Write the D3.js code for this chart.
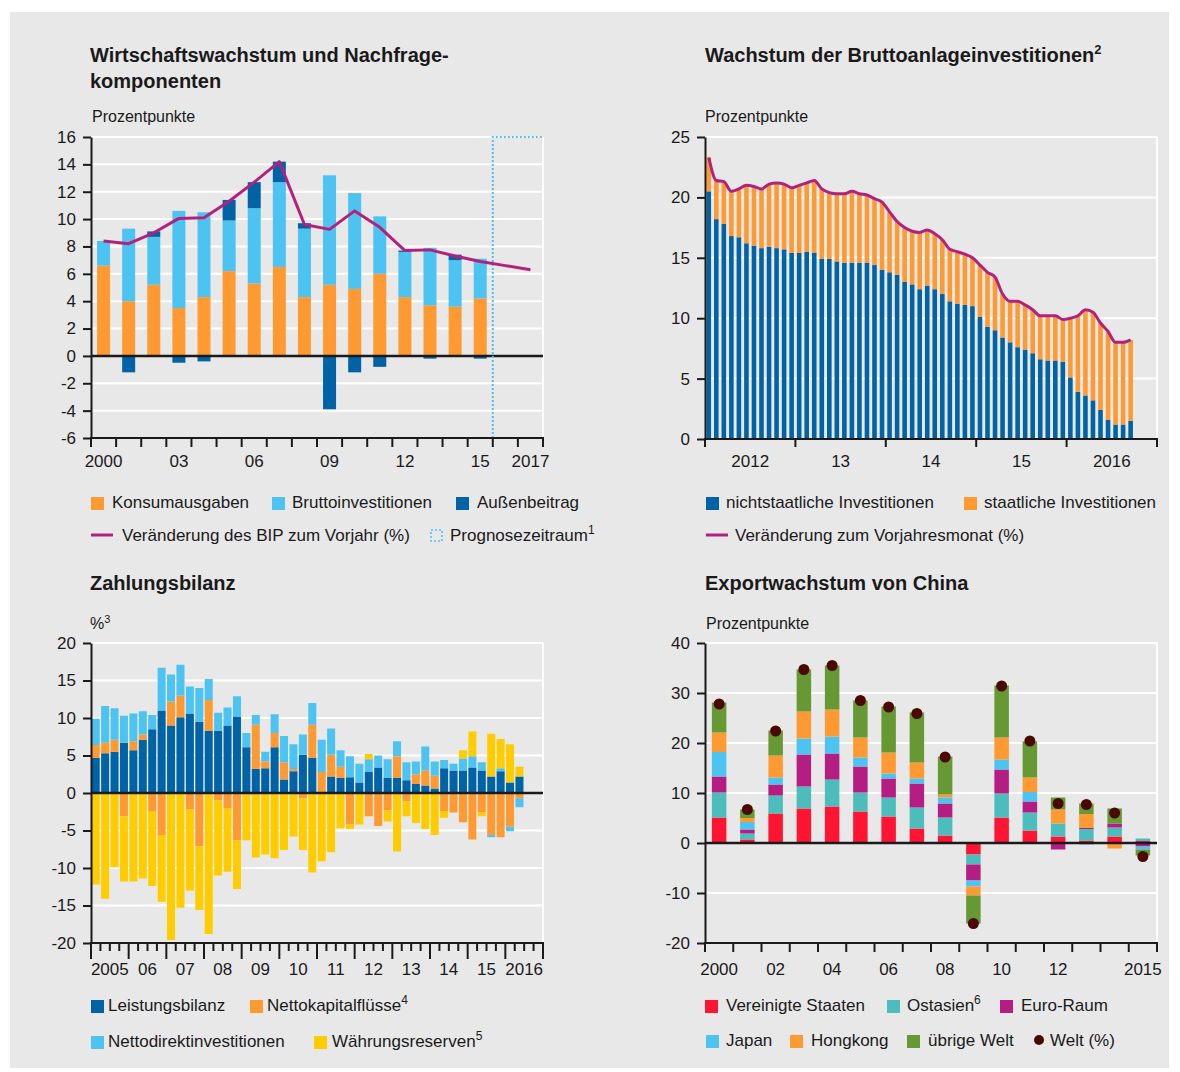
<!DOCTYPE html>
<html>
<head>
<meta charset="utf-8">
<script src="https://cdnjs.cloudflare.com/ajax/libs/d3/7.8.5/d3.min.js"></script>
<style>
body { margin: 0; background: #fff; }
svg text { font-family: "Liberation Sans", Arial, sans-serif; fill: #1a1a1a; }
</style>
</head>
<body>
<svg id="chart" width="1180" height="1072"></svg>
<script>
// ---------- data ----------
// Panel 1: Wirtschaftswachstum und Nachfragekomponenten (2000-2015 bars, 2000-2017 line)
const growthYears = d3.range(2000, 2018);
const compYears = d3.range(2000, 2016);
const konsum = [6.6, 4.0, 5.2, 3.5, 4.3, 6.2, 5.3, 6.5, 4.3, 5.2, 4.9, 6.0, 4.3, 3.7, 3.6, 4.2];
const brutto = [1.8, 5.3, 3.5, 7.1, 6.2, 3.7, 5.5, 6.2, 5.0, 8.0, 7.0, 4.2, 3.3, 4.2, 3.4, 2.9];
const aussen = [0.0, -1.2, 0.4, -0.5, -0.4, 1.5, 1.9, 1.5, 0.4, -3.9, -1.2, -0.8, 0.1, -0.2, 0.4, -0.2];
const bip = [8.4, 8.2, 9.0, 10.05, 10.1, 11.3, 12.7, 14.2, 9.6, 9.25, 10.6, 9.4, 7.7, 7.75, 7.3, 6.9, 6.6, 6.3];
const growthTickYears = [2000, 2003, 2006, 2009, 2012, 2015, 2017];
const growthYTicks = [-6, -4, -2, 0, 2, 4, 6, 8, 10, 12, 14, 16];

// Panel 2: Wachstum der Bruttoanlageinvestitionen (monthly, Jan 2012 - Sep 2016)
const investYears = [2012, 2013, 2014, 2015, 2016];
const investYearLabels = ['2012', '13', '14', '15', '2016'];
const privat = [20.5, 18.2, 17.8, 16.8, 16.7, 16.2, 16.0, 15.8, 15.9, 15.8, 15.7, 15.4, 15.4, 15.5, 15.4, 14.9, 14.9, 14.7, 14.6, 14.6,
  14.6, 14.6, 14.4, 14.0, 13.8, 13.6, 13.0, 12.8, 12.4, 12.7, 12.4, 12.0, 11.4, 11.2, 11.1, 11.0, 10.1, 9.3, 9.0, 8.4,
  8.0, 7.6, 7.4, 7.1, 6.6, 6.5, 6.5, 6.4, 5.1, 3.9, 3.6, 3.2, 2.4, 1.6, 1.2, 1.2, 1.5];
const staatlich = [2.8, 3.2, 3.5, 3.7, 4.0, 4.8, 4.9, 4.9, 5.2, 5.4, 5.4, 5.4, 5.6, 5.7, 6.0, 5.8, 5.5, 5.6, 5.7, 5.9,
  5.7, 5.6, 5.5, 5.6, 5.0, 4.4, 4.5, 4.4, 4.7, 4.6, 4.6, 4.5, 4.3, 4.3, 4.2, 4.0, 4.3, 4.5, 4.4, 3.6,
  3.4, 3.8, 3.7, 3.6, 3.6, 3.7, 3.7, 3.5, 4.9, 6.3, 7.1, 7.3, 7.2, 7.3, 6.8, 6.8, 6.7];
const investTotal = [23.3, 21.4, 21.3, 20.5, 20.7, 21.0, 20.9, 20.7, 21.1, 21.2, 21.1, 20.8, 21.0, 21.2, 21.4, 20.7, 20.4, 20.3, 20.3, 20.5,
  20.3, 20.2, 19.9, 19.6, 18.8, 18.0, 17.5, 17.2, 17.1, 17.3, 17.0, 16.5, 15.7, 15.5, 15.3, 15.0, 14.4, 13.8, 13.4, 12.0,
  11.4, 11.4, 11.1, 10.7, 10.2, 10.2, 10.2, 9.9, 10.0, 10.2, 10.7, 10.5, 9.6, 8.9, 8.0, 8.0, 8.2];
const investYTicks = [0, 5, 10, 15, 20, 25];

// Panel 3: Zahlungsbilanz (quarterly, 2005 Q1 - 2016 Q2)
const bopYears = d3.range(2005, 2017);
const bopYearLabels = ['2005', '06', '07', '08', '09', '10', '11', '12', '13', '14', '15', '2016'];
const leistung = [4.7, 5.3, 5.5, 6.7, 5.7, 7.1, 8.5, 11.0, 9.0, 10.1, 10.6, 9.5, 8.3, 8.3, 9.0, 10.2, 6.1, 3.2, 3.3, 6.1, 1.8, 2.9, 5.1,
  4.7, 0.0, 2.2, 2.0, 2.1, 1.4, 2.8, 3.4, 2.0, 2.0, 1.7, 1.2, 1.0, 0.6, 3.3, 3.0, 3.0, 3.4, 3.0, 2.2, 2.9, 1.4, 2.2];
const kapital = [1.7, 1.4, 1.6, -3.1, 1.2, 0.7, -2.4, -5.6, 3.2, 2.9, -2.2, -7.1, 4.1, -1.0, -2.0, -6.3, -0.2, 5.9, 0.9, 1.9, 2.3, 0.3, -0.7,
  4.4, 2.8, 2.9, 1.5, -4.2, 0.0, -3.1, -4.4, -2.3, 2.9, -1.1, 1.3, 2.0, 1.7, -2.4, -2.6, -3.9, -6.2, -2.6, -5.6, -5.9, -4.5, -0.7];
const direkt = [3.5, 4.9, 4.2, 3.6, 3.7, 3.1, 1.9, 5.7, 3.6, 4.1, 3.6, 4.5, 2.8, 2.4, 2.4, 2.7, 1.9, 1.3, 1.3, 2.5, 3.5, 3.3, 2.7,
  2.9, 4.3, 3.5, 2.2, 2.8, 2.5, 1.7, 1.6, 2.5, 2.0, 2.4, 1.7, 3.2, 1.9, 1.1, 0.9, 1.6, 1.5, 1.1, -0.3, 0.4, -0.6, -1.2];
const reserven = [-12.2, -14.1, -9.9, -8.7, -11.8, -11.4, -10.0, -8.9, -19.6, -15.3, -10.8, -8.5, -18.8, -10.0, -8.5, -6.5, -6.1, -8.6, -8.2, -8.7, -7.6, -5.8, -6.9,
  -10.6, -9.1, -7.9, -4.7, -0.6, -4.2, 0.7, 0.0, -1.5, -7.8, -2.0, -4.0, -4.8, -5.6, -0.9, 0.0, 1.1, 3.3, -0.5, 5.7, 3.9, 5.1, 1.3];
const bopYTicks = [-20, -15, -10, -5, 0, 5, 10, 15, 20];

// Panel 4: Exportwachstum von China (2000-2015)
const exportYears = d3.range(2000, 2016);
const exportTickYears = [2000, 2002, 2004, 2006, 2008, 2010, 2012, 2015];
const usa = [5.1, 0.7, 5.9, 6.9, 7.3, 6.3, 5.3, 2.9, 1.5, -2.3, 5.1, 2.5, 1.3, 0.5, 1.3, 0.4];
const ostasien = [5.0, 1.2, 3.6, 4.4, 5.4, 3.8, 3.8, 4.2, 3.6, -2.0, 4.8, 3.6, 2.6, 2.3, 1.8, 0.5];
const euroRaum = [3.2, 0.8, 2.2, 6.4, 5.2, 5.2, 3.8, 4.8, 2.8, -3.2, 4.8, 2.2, -1.3, 0.2, 0.8, -0.7];
const japan = [4.9, 1.5, 1.4, 3.2, 3.4, 1.8, 1.0, 1.0, 1.2, -1.2, 2.0, 1.9, 0.0, -0.3, -0.2, -0.6];
const hongkong = [3.9, 0.8, 4.4, 5.4, 5.4, 4.0, 4.2, 3.2, 0.6, -1.8, 4.4, 2.9, 2.8, 2.8, -0.9, 0.0];
const uebrige = [6.0, 1.7, 5.0, 8.4, 8.8, 7.4, 9.2, 10.0, 7.6, -5.6, 10.4, 7.2, 2.4, 2.1, 3.0, -1.2];
const welt = [27.8, 6.7, 22.4, 34.7, 35.5, 28.5, 27.2, 25.9, 17.2, -16.1, 31.4, 20.4, 7.9, 7.7, 6.0, -2.7];
const exportYTicks = [-20, -10, 0, 10, 20, 30, 40];

// ---------- colours ----------
const col = {
  orange: '#ff9a33', light: '#4cc3f1', dark: '#0063a5', line: '#b3217f', yellow: '#ffcc00',
  red: '#ff1432', teal: '#4cbcbc', euro: '#b41e82', green: '#669933', dot: '#4a0800', ink: '#1a1a1a'
};

const svg = d3.select('#chart');
svg.append('rect').attr('x', 10).attr('y', 12).attr('width', 1159).attr('height', 1056).attr('fill', '#e8e8e8');

// ---------- helpers ----------
function grid(g, y, ticks, x0, x1) {
  g.selectAll(null).data(ticks.slice(1)).enter().append('line')
    .attr('x1', x0).attr('x2', x1)
    .attr('y1', d => y(d)).attr('y2', d => y(d))
    .attr('stroke', '#fff').attr('stroke-width', 2);
  g.append('line').attr('x1', x1).attr('x2', x1)
    .attr('y1', y(ticks[ticks.length - 1])).attr('y2', y(ticks[0]))
    .attr('stroke', '#fff').attr('stroke-width', 2);
}

function yAxis(g, y, ticks, x0) {
  const ax = g.append('g').attr('transform', `translate(${x0},0)`)
    .call(d3.axisLeft(y).tickValues(ticks).tickSize(8).tickSizeOuter(0).tickPadding(7).tickFormat(d => String(d)));
  ax.attr('font-size', 17);
  ax.select('.domain').attr('stroke', col.ink).attr('stroke-width', 2);
  ax.selectAll('.tick line').attr('stroke', col.ink).attr('stroke-width', 2);
  ax.selectAll('.tick text').attr('fill', col.ink);
}

function xBase(g, yPos, x0, x1, tickXs, len) {
  g.selectAll(null).data(tickXs).enter().append('line')
    .attr('x1', d => d.x).attr('x2', d => d.x)
    .attr('y1', yPos).attr('y2', d => yPos + (d.len || len))
    .attr('stroke', col.ink).attr('stroke-width', 2);
  g.append('line').attr('x1', x0 - 1).attr('x2', x1 + 1).attr('y1', yPos).attr('y2', yPos)
    .attr('stroke', col.ink).attr('stroke-width', 2);
}

function zeroLine(g, y, x0, x1) {
  g.append('line').attr('x1', x0).attr('x2', x1).attr('y1', y(0)).attr('y2', y(0))
    .attr('stroke', col.ink).attr('stroke-width', 2.5);
}

function xLabels(g, items, yPos) {
  g.selectAll(null).data(items).enter().append('text')
    .attr('x', d => d.x).attr('y', yPos)
    .attr('text-anchor', 'middle').attr('font-size', 17)
    .text(d => d.label);
}

function stackBars(g, rows, keys, colours, x, y, w) {
  const series = d3.stack().keys(keys).offset(d3.stackOffsetDiverging)(rows);
  series.forEach((s, i) => {
    g.selectAll(null).data(s).enter().append('rect')
      .attr('x', d => x(d.data.key) + (x.bandwidth() - w) / 2)
      .attr('width', w)
      .attr('y', d => y(Math.max(d[0], d[1])))
      .attr('height', d => Math.abs(y(d[0]) - y(d[1])))
      .attr('fill', colours[i]);
  });
}

function title(x, y, lines, sup) {
  const t = svg.append('text').attr('x', x).attr('y', y).attr('font-size', 20).attr('font-weight', 'bold');
  lines.forEach((l, i) => {
    t.append('tspan').attr('x', x).attr('dy', i === 0 ? 0 : 26).text(l);
  });
  if (sup) t.append('tspan').attr('font-size', 13).attr('dy', -8).text(sup);
}

function unit(x, y, label, sup) {
  const t = svg.append('text').attr('x', x).attr('y', y).attr('font-size', 16).text(label);
  if (sup) t.append('tspan').attr('font-size', 11).attr('dy', -6).text(sup);
}

function legend(items) {
  items.forEach(it => {
    if (it.type === 'rect') {
      svg.append('rect').attr('x', it.x).attr('y', it.y - 11).attr('width', 13).attr('height', 13).attr('fill', it.color);
    } else if (it.type === 'line') {
      svg.append('line').attr('x1', it.x).attr('x2', it.x + 22).attr('y1', it.y - 6).attr('y2', it.y - 6)
        .attr('stroke', it.color).attr('stroke-width', 3);
    } else if (it.type === 'dotted') {
      svg.append('rect').attr('x', it.x + 1).attr('y', it.y - 11).attr('width', 11).attr('height', 11)
        .attr('fill', 'none').attr('stroke', it.color).attr('stroke-width', 1.6).attr('stroke-dasharray', '2,2');
    } else if (it.type === 'dot') {
      svg.append('circle').attr('cx', it.x + 5).attr('cy', it.y - 6).attr('r', 5).attr('fill', it.color);
    }
    const t = svg.append('text').attr('x', it.tx).attr('y', it.y).attr('font-size', 17).text(it.label);
    if (it.sup) t.append('tspan').attr('font-size', 12).attr('dy', -7).text(it.sup);
  });
}

// ---------- Panel 1 ----------
{
  const g = svg.append('g');
  const x0 = 91, x1 = 543;
  const x = d3.scaleBand().domain(growthYears).range([x0, x1]);
  const y = d3.scaleLinear().domain([-6, 16]).range([438, 137]);
  grid(g, y, growthYTicks, x0, x1);

  const rows = compYears.map((yr, i) => ({ key: yr, konsum: konsum[i], brutto: brutto[i], aussen: aussen[i] }));
  stackBars(g, rows, ['konsum', 'brutto', 'aussen'], [col.orange, col.light, col.dark], x, y, 13);
  zeroLine(g, y, x0, x1);

  // forecast period
  g.append('path')
    .attr('d', `M${x(2016)},${y(-6)}V${y(16)}H${x1}`)
    .attr('fill', 'none').attr('stroke', col.light).attr('stroke-width', 2).attr('stroke-dasharray', '2,2');

  const line = d3.line().x((d, i) => x(growthYears[i]) + x.bandwidth() / 2).y(d => y(d));
  g.append('path').datum(bip).attr('d', line).attr('fill', 'none')
    .attr('stroke', col.line).attr('stroke-width', 3).attr('stroke-linejoin', 'round');

  yAxis(g, y, growthYTicks, x0);
  const ticks = growthYears.map(yr => ({ x: x(yr) })).concat([{ x: x1 }]);
  xBase(g, y(-6), x0, x1, ticks, 9);
  xLabels(g, growthTickYears.map(yr => ({
    x: x(yr) + x.bandwidth() / 2,
    label: (yr === 2000 || yr === 2017) ? String(yr) : String(yr).slice(2)
  })), 467);

  title(90, 62, ['Wirtschaftswachstum und Nachfrage-', 'komponenten']);
  unit(92, 122, 'Prozentpunkte');
  legend([
    { type: 'rect', color: col.orange, x: 91, y: 508, tx: 112, label: 'Konsumausgaben' },
    { type: 'rect', color: col.light, x: 272, y: 508, tx: 292, label: 'Bruttoinvestitionen' },
    { type: 'rect', color: col.dark, x: 456, y: 508, tx: 477, label: 'Außenbeitrag' },
    { type: 'line', color: col.line, x: 91, y: 541, tx: 122, label: 'Veränderung des BIP zum Vorjahr (%)' },
    { type: 'dotted', color: col.light, x: 430, y: 541, tx: 450, label: 'Prognosezeitraum', sup: '1' }
  ]);
}

// ---------- Panel 2 ----------
{
  const g = svg.append('g');
  const x0 = 705, x1 = 1157;
  const months = d3.range(investYears.length * 12);
  const x = d3.scaleBand().domain(months).range([x0, x1]);
  const y = d3.scaleLinear().domain([0, 25]).range([439, 137]);
  grid(g, y, investYTicks, x0, x1);

  const rows = privat.map((v, i) => ({ key: i, privat: v, staatlich: staatlich[i] }));
  stackBars(g, rows, ['privat', 'staatlich'], [col.dark, col.orange], x, y, 4.6);

  const line = d3.line().x((d, i) => x(i) + x.bandwidth() / 2).y(d => y(d)).curve(d3.curveMonotoneX);
  g.append('path').datum(investTotal).attr('d', line).attr('fill', 'none')
    .attr('stroke', col.line).attr('stroke-width', 3).attr('stroke-linejoin', 'round');

  yAxis(g, y, investYTicks, x0);
  const ticks = investYears.map((yr, i) => ({ x: x(i * 12) })).concat([{ x: x1 }]);
  xBase(g, y(0), x0, x1, ticks, 8);
  xLabels(g, investYears.map((yr, i) => ({ x: x(i * 12) + 6 * x.step(), label: investYearLabels[i] })), 467);

  title(705, 62, ['Wachstum der Bruttoanlageinvestitionen'], '2');
  unit(705, 122, 'Prozentpunkte');
  legend([
    { type: 'rect', color: col.dark, x: 706, y: 508, tx: 726, label: 'nichtstaatliche Investitionen' },
    { type: 'rect', color: col.orange, x: 964, y: 508, tx: 984, label: 'staatliche Investitionen' },
    { type: 'line', color: col.line, x: 706, y: 541, tx: 735, label: 'Veränderung zum Vorjahresmonat (%)' }
  ]);
}

// ---------- Panel 3 ----------
{
  const g = svg.append('g');
  const x0 = 91, x1 = 543;
  const quarters = d3.range(bopYears.length * 4);
  const x = d3.scaleBand().domain(quarters).range([x0, x1]);
  const y = d3.scaleLinear().domain([-20, 20]).range([943, 643]);
  grid(g, y, bopYTicks, x0, x1);

  const rows = leistung.map((v, i) => ({ key: i, leistung: v, kapital: kapital[i], direkt: direkt[i], reserven: reserven[i] }));
  stackBars(g, rows, ['leistung', 'kapital', 'direkt', 'reserven'], [col.dark, col.orange, col.light, col.yellow], x, y, 8);
  zeroLine(g, y, x0, x1);

  yAxis(g, y, bopYTicks, x0);
  const ticks = quarters.map(q => ({ x: x(q), len: q % 4 === 0 ? 16 : 8 })).concat([{ x: x1, len: 16 }]);
  xBase(g, y(-20), x0, x1, ticks, 8);
  xLabels(g, bopYears.map((yr, i) => ({ x: x(i * 4) + 2 * x.step(), label: bopYearLabels[i] })), 975);

  title(90, 590, ['Zahlungsbilanz']);
  unit(90, 629, '%', '3');
  legend([
    { type: 'rect', color: col.dark, x: 91, y: 1011, tx: 108, label: 'Leistungsbilanz' },
    { type: 'rect', color: col.orange, x: 250, y: 1011, tx: 267, label: 'Nettokapitalflüsse', sup: '4' },
    { type: 'rect', color: col.light, x: 91, y: 1047, tx: 108, label: 'Nettodirektinvestitionen' },
    { type: 'rect', color: col.yellow, x: 314, y: 1047, tx: 332, label: 'Währungsreserven', sup: '5' }
  ]);
}

// ---------- Panel 4 ----------
{
  const g = svg.append('g');
  const x0 = 705, x1 = 1157;
  const x = d3.scaleBand().domain(exportYears).range([x0, x1]);
  const y = d3.scaleLinear().domain([-20, 40]).range([943, 643]);
  grid(g, y, exportYTicks, x0, x1);

  const rows = exportYears.map((yr, i) => ({
    key: yr, usa: usa[i], ostasien: ostasien[i], euro: euroRaum[i], japan: japan[i], hongkong: hongkong[i], uebrige: uebrige[i]
  }));
  stackBars(g, rows, ['usa', 'ostasien', 'euro', 'japan', 'hongkong', 'uebrige'],
    [col.red, col.teal, col.euro, col.light, col.orange, col.green], x, y, 14.5);
  zeroLine(g, y, x0, x1);

  g.selectAll(null).data(welt).enter().append('circle')
    .attr('cx', (d, i) => x(exportYears[i]) + x.bandwidth() / 2)
    .attr('cy', d => y(d))
    .attr('r', 5.5).attr('fill', col.dot);

  yAxis(g, y, exportYTicks, x0);
  const ticks = exportYears.map(yr => ({ x: x(yr) })).concat([{ x: x1 }]);
  xBase(g, y(-20), x0, x1, ticks, 9);
  xLabels(g, exportTickYears.map(yr => ({
    x: x(yr) + x.bandwidth() / 2,
    label: (yr === 2000 || yr === 2015) ? String(yr) : String(yr).slice(2)
  })), 975);

  title(705, 590, ['Exportwachstum von China']);
  unit(706, 629, 'Prozentpunkte');
  legend([
    { type: 'rect', color: col.red, x: 705, y: 1011, tx: 726, label: 'Vereinigte Staaten' },
    { type: 'rect', color: col.teal, x: 887, y: 1011, tx: 907, label: 'Ostasien', sup: '6' },
    { type: 'rect', color: col.euro, x: 1000, y: 1011, tx: 1021, label: 'Euro-Raum' },
    { type: 'rect', color: col.light, x: 706, y: 1046, tx: 726, label: 'Japan' },
    { type: 'rect', color: col.orange, x: 790, y: 1046, tx: 811, label: 'Hongkong' },
    { type: 'rect', color: col.green, x: 907, y: 1046, tx: 928, label: 'übrige Welt' },
    { type: 'dot', color: col.dot, x: 1034, y: 1046, tx: 1050, label: 'Welt (%)' }
  ]);
}
</script>
</body>
</html>
